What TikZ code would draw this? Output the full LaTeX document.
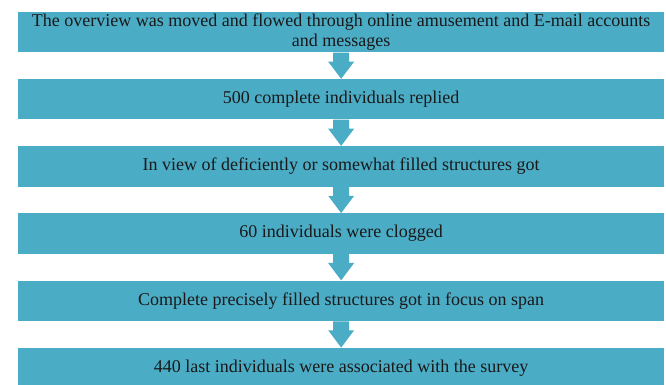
\documentclass[tikz,border=0pt]{standalone}
\usepackage{fontspec}
\setmainfont{Liberation Serif}
\definecolor{boxblue}{HTML}{4BACC6}
\tikzset{
  stepbox/.style={fill=boxblue, draw=none, minimum width=645.7pt, minimum height=40.5pt, inner sep=0pt, align=center, font=\fontsize{18}{20}\selectfont, text=black!90},
  flowarrow/.style={fill=boxblue, draw=none},
}
\begin{document}
\begin{tikzpicture}[x=1pt,y=-1pt]
\useasboundingbox (0,0) rectangle (666,384);
\node[stepbox] (b1) at (341.15,32.2) {The overview was moved and flowed through online amusement and E-mail accounts\\and messages};
\node[stepbox] (b2) at (341.15,99.2) {500 complete individuals replied};
\node[stepbox] (b3) at (341.15,166.3) {In view of deficiently or somewhat filled structures got};
\node[stepbox] (b4) at (341.15,233.5) {60 individuals were clogged};
\node[stepbox] (b5) at (341.15,300.8) {Complete precisely filled structures got in focus on span};
\node[stepbox] (b6) at (341.15,368) {440 last individuals were associated with the survey};
\foreach \a/\b in {b1/b2,b2/b3,b3/b4,b4/b5,b5/b6}{
  \fill[flowarrow] ([xshift=-8pt]\a.south) -- ([xshift=-8pt,yshift=-9pt]\a.south) -- ([xshift=-13pt,yshift=-9pt]\a.south) -- (\b.north) -- ([xshift=13pt,yshift=-9pt]\a.south) -- ([xshift=8pt,yshift=-9pt]\a.south) -- ([xshift=8pt]\a.south) -- cycle;
}
\end{tikzpicture}
\end{document}
